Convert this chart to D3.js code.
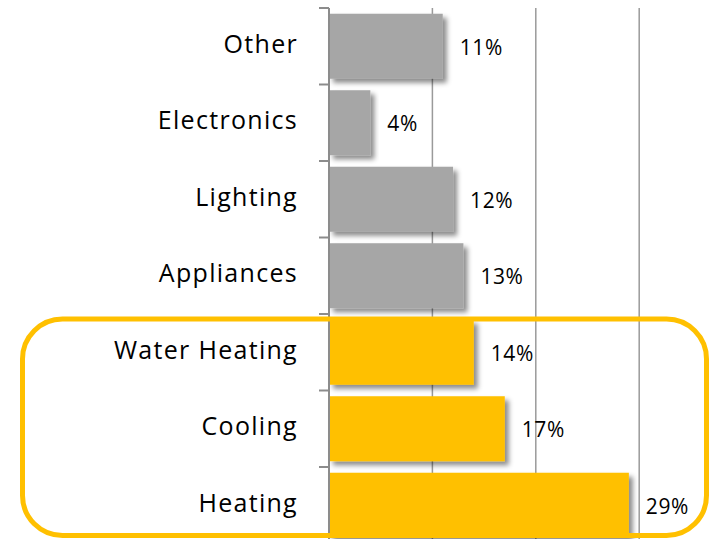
<!DOCTYPE html>
<html>
<head>
<meta charset="utf-8">
<script src="https://cdn.jsdelivr.net/npm/d3@7"></script>
<style>
  body { margin: 0; background: #fff; }
  text { font-family: "Open Sans", "Noto Sans", sans-serif; fill: #000; }
</style>
</head>
<body>
<div id="chart"></div>
<script>
// end-use shares, top to bottom
var categories = ["Other", "Electronics", "Lighting", "Appliances", "Water Heating", "Cooling", "Heating"];
var shares = [11, 4, 12, 13, 14, 17, 29];
var highlighted = ["Water Heating", "Cooling", "Heating"];
var gridTicks = [10, 20, 30];

var width = 711, height = 539;
var x0 = 329;

var svg = d3.select("#chart")
  .append("svg")
    .attr("width", width)
    .attr("height", height);

var defs = svg.append("defs");
defs.append("filter")
    .attr("id", "shadow")
    .attr("x", "-10%").attr("y", "-10%")
    .attr("width", "130%").attr("height", "130%")
  .append("feDropShadow")
    .attr("dx", 4).attr("dy", 4)
    .attr("stdDeviation", 2.5)
    .attr("flood-color", "#000")
    .attr("flood-opacity", 0.45);

var x = d3.scaleLinear()
  .domain([0, 10])
  .range([x0, x0 + 103.4]);

var y = d3.scaleBand()
  .domain(categories)
  .range([8, 8 + 76.5 * categories.length])
  .paddingInner(0.15)
  .paddingOuter(0.075);

// gridlines
svg.append("g")
  .selectAll("line")
  .data(gridTicks)
  .enter()
  .append("line")
    .attr("x1", d => x(d)).attr("x2", d => x(d))
    .attr("y1", 8).attr("y2", height)
    .attr("stroke", "#9a9a9a")
    .attr("stroke-width", 1.5);

// bars
svg.append("g")
  .selectAll("rect")
  .data(categories)
  .enter()
  .append("rect")
    .attr("x", x(0))
    .attr("y", d => y(d))
    .attr("width", (d, i) => x(shares[i]) - x(0))
    .attr("height", y.bandwidth())
    .attr("fill", d => highlighted.includes(d) ? "#FFC000" : "#A6A6A6")
    .attr("filter", "url(#shadow)");

// category axis
var yAxis = d3.axisLeft(y).tickSize(0).tickFormat("");
var ax = svg.append("g")
  .attr("transform", "translate(" + x0 + ",0)")
  .call(yAxis);
ax.select(".domain").remove();
ax.append("line")
  .attr("x1", 0).attr("x2", 0)
  .attr("y1", 8).attr("y2", height)
  .attr("stroke", "#8c8c8c")
  .attr("stroke-width", 2);
var step = y.step();
var bounds = d3.range(categories.length + 1).map(i => 8 + i * step);
ax.selectAll(".bound")
  .data(bounds)
  .enter()
  .append("line")
    .attr("class", "bound")
    .attr("x1", -10).attr("x2", 0)
    .attr("y1", d => d).attr("y2", d => d)
    .attr("stroke", "#8c8c8c")
    .attr("stroke-width", 2);

// category labels
svg.append("g")
  .selectAll("text")
  .data(categories)
  .enter()
  .append("text")
    .attr("x", 298)
    .attr("y", d => y(d) + y.bandwidth() / 2 + 6.5)
    .attr("text-anchor", "end")
    .style("font-size", "25px")
    .style("letter-spacing", "1.3px")
    .text(d => d);

// value labels
svg.append("g")
  .selectAll("text")
  .data(categories)
  .enter()
  .append("text")
    .attr("x", (d, i) => x(shares[i]) + 17)
    .attr("y", d => y(d) + y.bandwidth() / 2 + 8.5)
    .style("font-size", "21px")
    .style("letter-spacing", "0.6px")
    .text((d, i) => shares[i] + "%");

// highlight box around the heating & cooling group
svg.append("rect")
  .attr("x", 22.5)
  .attr("y", 319)
  .attr("width", 684)
  .attr("height", 216.5)
  .attr("rx", 40)
  .attr("fill", "none")
  .attr("stroke", "#FFC000")
  .attr("stroke-width", 5);
</script>
</body>
</html>
